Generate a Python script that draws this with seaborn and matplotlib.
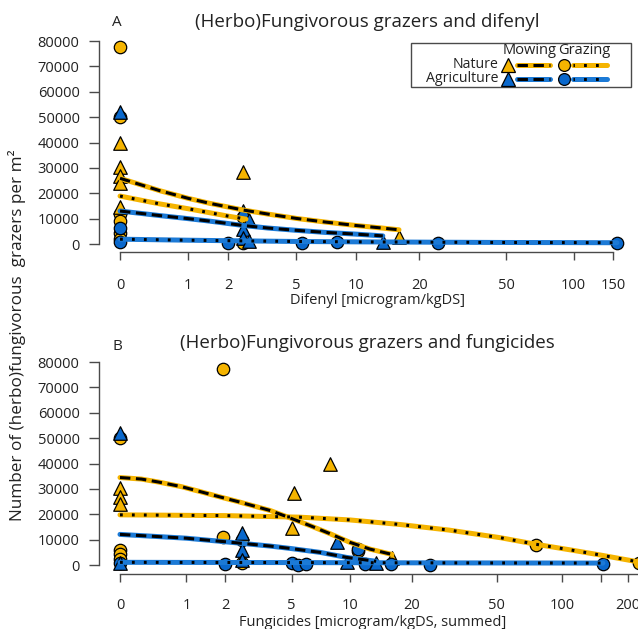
import numpy as np
import pandas as pd
import matplotlib
matplotlib.use("Agg")
import matplotlib.pyplot as plt
import seaborn as sns
from matplotlib.lines import Line2D
from matplotlib.patches import Rectangle

# ---------------- data ----------------
# Panel A: difenyl
a_natmow_x = [0, 0, 0, 0, 0, 2.5, 16.1]
a_natmow_y = [40000, 30500, 27000, 24000, 14500, 28500, 2800]
a_natgraz_x = [0, 0, 0, 0, 0, 0, 2.5, 2.5]
a_natgraz_y = [77500, 50000, 12000, 9000, 4500, 2000, 10500, 500]
a_agrmow_x = [0, 2.5, 2.7, 2.5, 2.5, 2.7, 13.5]
a_agrmow_y = [52000, 13000, 9500, 6000, 2500, 1200, 700]
a_agrgraz_x = [0, 0, 2.0, 5.4, 8.1, 24.5, 156]
a_agrgraz_y = [6200, 800, 500, 400, 900, 300, 300]

# fitted curves, panel A
a_fit_natmow_x = [0, 0.5, 1, 1.5, 2.5, 3.5, 5, 7, 10, 13, 16.1]
a_fit_natmow_y = [25900, 21000, 18000, 16000, 13400, 11800, 10100, 8700, 7300, 6400, 5600]
a_fit_natgraz_x = [0, 0.5, 1, 1.5, 2, 2.6]
a_fit_natgraz_y = [18900, 15800, 13900, 12300, 11000, 9800]
a_fit_agrmow_x = [0, 0.5, 1, 1.5, 2.5, 3.5, 5, 7, 10, 13.5]
a_fit_agrmow_y = [13000, 11200, 10000, 9000, 7300, 6300, 5400, 4600, 3900, 3200]
a_fit_agrgraz_x = [0, 1, 2, 5, 10, 25, 50, 100, 156]
a_fit_agrgraz_y = [1900, 1500, 1300, 1000, 850, 700, 600, 550, 500]

# Panel B: fungicides
b_natmow_x = [0, 0, 0, 5.15, 5.0, 7.95, 16.1]
b_natmow_y = [30500, 27000, 24000, 28400, 14600, 39800, 2900]
b_natgraz_x = [1.93, 0, 1.93, 2.57, 0, 0, 0, 2.57, 76, 11, 225]
b_natgraz_y = [77200, 50000, 11200, 9900, 6000, 4500, 2500, 700, 7900, 5500, 800]
b_agrmow_x = [0, 2.57, 2.57, 2.57, 8.6, 9.7, 13.5, 0]
b_agrmow_y = [52000, 12600, 5900, 2000, 9200, 1300, 1000, 1000]
b_agrgraz_x = [0, 2.0, 5.0, 5.4, 6.0, 11.0, 11.9, 15.9, 24.4, 153.6]
b_agrgraz_y = [1000, 300, 900, 100, 500, 6300, 400, 400, 0, 300]

b_fit_natmow_x = [0, 0.25, 0.5, 0.9, 1.3, 1.8, 2.5, 3.8, 4.9, 6.3, 8.0, 10.0, 12.6, 16.1]
b_fit_natmow_y = [34500, 33900, 32700, 30900, 29000, 27000, 24800, 21500, 18600, 15500,
                  12300, 9000, 6300, 4200]
b_fit_natgraz_x = [0, 2, 5.5, 10, 17.6, 30, 52, 76, 109, 149, 225]
b_fit_natgraz_y = [19800, 19500, 18900, 17800, 16000, 13800, 10800, 8200, 6000, 4000, 1200]
b_fit_agrmow_x = [0, 1, 2, 3.8, 5, 7.1, 9.7, 13.5]
b_fit_agrmow_y = [12100, 10600, 9200, 7500, 6500, 5000, 3000, 1500]
b_fit_agrgraz_x = [0, 5, 20, 50, 153.6]
b_fit_agrgraz_y = [1100, 1000, 900, 850, 800]

a_ticks = [0, 1, 2, 5, 10, 20, 50, 100, 150]
a_ticklabels = ["0", "1", "2", "5", "10", "20", "50", "100", "150"]
b_ticks = [0, 1, 2, 5, 10, 20, 50, 100, 150, 200]
b_ticklabels = ["0", "1", "2", "5", "10", "20", "50", "100", "", "200"]
y_ticks = [0, 10000, 20000, 30000, 40000, 50000, 60000, 70000, 80000]

# ---------------- style ----------------
YEL = "#F5B400"
BLU = "#0A68CC"
BLU_L = "#1C7AD6"
AXC = "#4a4a4a"

sns.set_style("ticks")
plt.rcParams["font.family"] = ["Open Sans", "DejaVu Sans"]
plt.rcParams["lines.scale_dashes"] = False
plt.rcParams["text.color"] = "#222222"
plt.rcParams["xtick.labelcolor"] = "#222222"
plt.rcParams["ytick.labelcolor"] = "#222222"

W, H = 638, 629
fig = plt.figure(figsize=(W / 100, H / 100), dpi=100)


def fx(px):
    return px / W


def fy(py):
    return 1 - py / H


def style_axes(ax, xlim, ylim, ticks, labels, xbound, xpad):
    ax.set_xlim(*xlim)
    ax.set_ylim(*ylim)
    ax.set_xticks(np.log1p(ticks))
    ax.set_xticklabels(labels)
    ax.set_yticks(y_ticks)
    ax.set_yticklabels([str(v) for v in y_ticks])
    for s in ["top", "right"]:
        ax.spines[s].set_visible(False)
    ax.spines["left"].set_bounds(0, 80000)
    ax.spines["bottom"].set_bounds(0, xbound)
    for s in ["left", "bottom"]:
        ax.spines[s].set_color(AXC)
        ax.spines[s].set_linewidth(1.0)
    ax.tick_params(axis="x", length=6, width=1.0, color=AXC, pad=xpad, labelsize=10.5)
    ax.tick_params(axis="y", length=7.5, width=1.0, color=AXC, pad=6.5, labelsize=10.5)
    ax.set_xlabel("")
    ax.set_ylabel("")
    ax.patch.set_visible(False)


def draw_points(ax, xs, ys, marker, color, size):
    df = pd.DataFrame({"x": np.log1p(xs), "y": ys})
    sns.scatterplot(data=df, x="x", y="y", ax=ax, marker=marker, s=size,
                    color=color, edgecolor="black", linewidth=0.9, zorder=3,
                    clip_on=True, legend=False)


DASH = (0, (7.5, 4.0))
DOT = (0, (2.0, 6.6))


def draw_fit(ax, xs, ys, color, kind):
    df = pd.DataFrame({"x": np.log1p(xs), "y": ys})
    sns.lineplot(data=df, x="x", y="y", ax=ax, color=color, linewidth=3.6,
                 sort=False, estimator=None, zorder=4, legend=False)
    ls = DASH if kind == "dash" else DOT
    sns.lineplot(data=df, x="x", y="y", ax=ax, color="black", linewidth=2.2,
                 linestyle=ls, sort=False, estimator=None, zorder=5, legend=False)


# ---------------- panel A ----------------
axA = fig.add_axes([fx(99), fy(252), fx(631) - fx(99), (252 - 39.5) / H])
draw_points(axA, a_natgraz_x, a_natgraz_y, "o", YEL, 80)
draw_points(axA, a_natmow_x, a_natmow_y, "^", YEL, 95)
draw_points(axA, a_agrgraz_x, a_agrgraz_y, "o", BLU, 80)
draw_points(axA, a_agrmow_x, a_agrmow_y, "^", BLU, 95)
draw_fit(axA, a_fit_natmow_x, a_fit_natmow_y, YEL, "dash")
draw_fit(axA, a_fit_natgraz_x, a_fit_natgraz_y, YEL, "dot")
draw_fit(axA, a_fit_agrmow_x, a_fit_agrmow_y, BLU_L, "dash")
draw_fit(axA, a_fit_agrgraz_x, a_fit_agrgraz_y, BLU_L, "dot")
style_axes(axA, (-0.214, 5.2), (-3150, 80600), a_ticks, a_ticklabels, np.log1p(150), 12.5)

# ---------------- panel B ----------------
axB = fig.add_axes([fx(99), fy(574), fx(638) - fx(99), (574 - 360.5) / H])
draw_points(axB, b_natgraz_x, b_natgraz_y, "o", YEL, 80)
draw_points(axB, b_natmow_x, b_natmow_y, "^", YEL, 95)
draw_points(axB, b_agrgraz_x, b_agrgraz_y, "o", BLU, 80)
draw_points(axB, b_agrmow_x, b_agrmow_y, "^", BLU, 95)
draw_fit(axB, b_fit_natmow_x, b_fit_natmow_y, YEL, "dash")
draw_fit(axB, b_fit_natgraz_x, b_fit_natgraz_y, YEL, "dot")
draw_fit(axB, b_fit_agrmow_x, b_fit_agrmow_y, BLU_L, "dash")
draw_fit(axB, b_fit_agrgraz_x, b_fit_agrgraz_y, BLU_L, "dot")
style_axes(axB, (-0.219, 5.407), (-3500, 80600), b_ticks, b_ticklabels, 5.407, 11.5)

# ---------------- texts ----------------
fig.text(fx(117), fy(22), "A", ha="center", va="center", fontsize=11)
fig.text(fx(367.5), fy(22), "(Herbo)Fungivorous grazers and difenyl",
         ha="center", va="center", fontsize=13.5)
fig.text(fx(117), fy(346), "B", ha="center", va="center", fontsize=11)
fig.text(fx(367.5), fy(343), "(Herbo)Fungivorous grazers and fungicides",
         ha="center", va="center", fontsize=13.5)
fig.text(fx(377), fy(300), "Difenyl [microgram/kgDS]", ha="center", va="center",
         fontsize=10.5)
fig.text(fx(373), fy(622), "Fungicides [microgram/kgDS, summed]", ha="center",
         va="center", fontsize=10.5)
fig.text(fx(17), fy(335), "Number of (herbo)fungivorous  grazers per m²",
         ha="center", va="center", rotation=90, fontsize=12.3)

# ---------------- legend ----------------
fig.patches.append(Rectangle((fx(411), fy(87)), fx(631) - fx(411), (87 - 43) / H,
                             transform=fig.transFigure, facecolor="white",
                             edgecolor=AXC, linewidth=1.0, zorder=10))
fig.text(fx(530), fy(51), "Mowing", ha="center", va="center", fontsize=10.5, zorder=11)
fig.text(fx(584), fy(51), "Grazing", ha="center", va="center", fontsize=10.5, zorder=11)
for row_y, name, col, lcol in [(64.5, "Nature", YEL, YEL), (78.5, "Agriculture", BLU, BLU_L)]:
    fig.text(fx(499), fy(row_y), name, ha="right", va="center", fontsize=10.2, zorder=11)
    fig.lines.append(Line2D([fx(508)], [fy(row_y)], marker="^", markersize=9.5,
                            markerfacecolor=col, markeredgecolor="black",
                            markeredgewidth=0.9, transform=fig.transFigure, zorder=11))
    fig.lines.append(Line2D([fx(564)], [fy(row_y)], marker="o", markersize=8.5,
                            markerfacecolor=col, markeredgecolor="black",
                            markeredgewidth=0.9, transform=fig.transFigure, zorder=11))
    for (x0, x1, ls) in [(517, 550, DASH), (573, 607, (1.0, (2.0, 6.6)))]:
        fig.lines.append(Line2D([fx(x0), fx(x1)], [fy(row_y)] * 2, color=lcol,
                                linewidth=3.6, transform=fig.transFigure, zorder=11))
        fig.lines.append(Line2D([fx(x0), fx(x1)], [fy(row_y)] * 2, color="black",
                                linewidth=2.2, linestyle=ls,
                                transform=fig.transFigure, zorder=12))

fig.savefig("out.png", dpi=100)
